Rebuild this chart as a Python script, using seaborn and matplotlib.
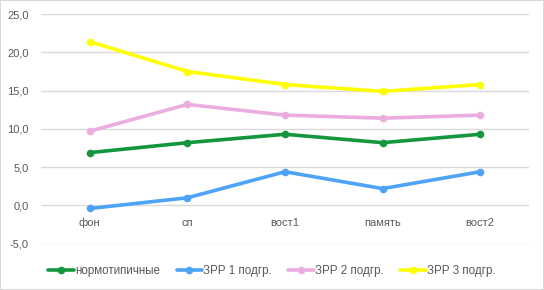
import matplotlib
matplotlib.use("Agg")
import matplotlib.pyplot as plt
import seaborn as sns
import pandas as pd
from matplotlib.patches import Rectangle
from matplotlib.ticker import FuncFormatter

categories = ["фон", "сп", "вост1", "память", "вост2"]
series_names = ["нормотипичные", "ЗРР 1 подгр.", "ЗРР 2 подгр.", "ЗРР 3 подгр."]
normo = [6.9, 8.2, 9.3, 8.2, 9.3]
zrr1 = [-0.4, 1.0, 4.4, 2.2, 4.4]
zrr2 = [9.7, 13.2, 11.8, 11.4, 11.8]
zrr3 = [21.4, 17.5, 15.8, 14.9, 15.8]
colors = ["#13963D", "#4DA3F7", "#EBADE0", "#FFFF00"]

rows = []
for name, vals in zip(series_names, [normo, zrr1, zrr2, zrr3]):
    for c, v in zip(categories, vals):
        rows.append({"cat": c, "val": v, "series": name})
df = pd.DataFrame(rows)

sns.set_theme(style="white")
plt.rcParams["font.family"] = ["Liberation Sans", "DejaVu Sans"]

fig = plt.figure(figsize=(5.44, 2.90), dpi=100)
ax = fig.add_axes([41/544, 1 - 244.3/290, 488/544, (244.3 - 13.5)/290])

sns.lineplot(data=df, x="cat", y="val", hue="series", palette=colors,
             marker="o", markersize=5.5, markeredgewidth=0, linewidth=2.6,
             sort=False, ax=ax, legend=True)

ax.set_xlim(-0.5, 4.5)
ax.set_ylim(-5.08, 25.08)
ax.set_yticks([-5, 0, 5, 10, 15, 20, 25])
ax.yaxis.set_major_formatter(FuncFormatter(lambda v, p: f"{v:.1f}".replace(".", ",")))
ax.grid(axis="y", color="#D9D9D9", linewidth=1)
ax.set_axisbelow(True)
for s in ["top", "right", "left"]:
    ax.spines[s].set_visible(False)
ax.spines["bottom"].set_position(("data", 0))
ax.spines["bottom"].set_visible(False)
ax.tick_params(axis="both", length=0, labelsize=8, colors="#595959")
ax.tick_params(axis="x", pad=9)
ax.tick_params(axis="y", pad=9)
ax.set_xlabel("")
ax.set_ylabel("")

handles, labels = ax.get_legend_handles_labels()
ax.get_legend().remove()
fig.legend(handles, labels, loc="center", bbox_to_anchor=(0.5, 1 - 270.8/290),
           ncol=4, frameon=False, fontsize=8.4, handlelength=2.2, handletextpad=0.1,
           columnspacing=1.4, labelcolor="#595959")

fig.patches.append(Rectangle((0, 0), 1, 1, transform=fig.transFigure, fill=False,
                             edgecolor="#D9D9D9", linewidth=1.5))

fig.savefig("out.png", dpi=100)
